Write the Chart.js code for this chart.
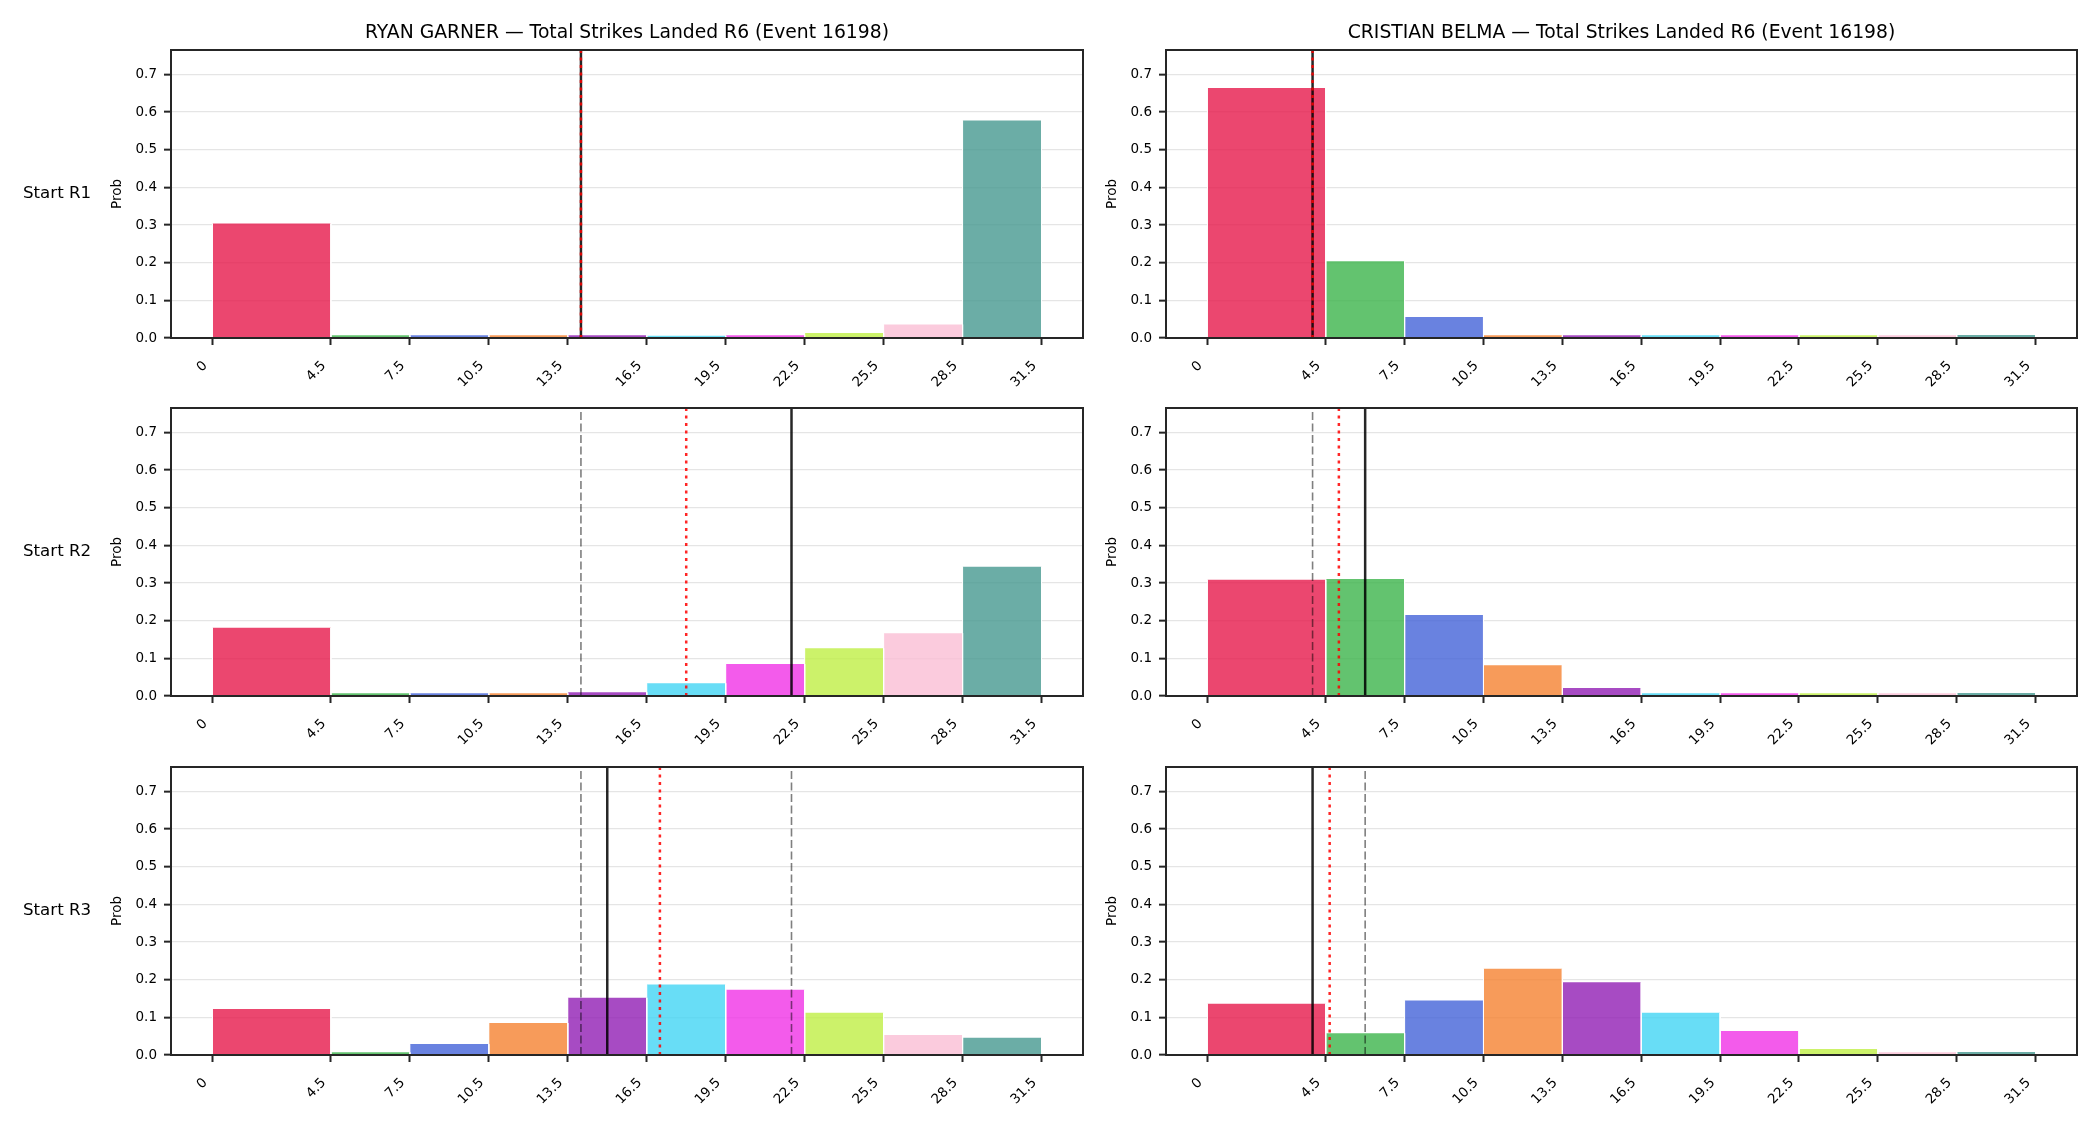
<!DOCTYPE html>
<html>
<head>
<meta charset="utf-8">
<script src="https://cdn.jsdelivr.net/npm/chart.js@4.4.1/dist/chart.umd.min.js"></script>
<style>
  body { margin: 0; background: #fff; }
  #fig { position: relative; width: 2100px; height: 1125px; background: #fff; font-family: 'DejaVu Sans', sans-serif; overflow: hidden; }
  canvas { position: absolute; }
  .title { position: absolute; font-size: 18.75px; line-height: 20px; white-space: nowrap; transform: translateX(-50%); color: #000; }
  .rowlab { position: absolute; left: 23px; font-size: 16.67px; line-height: 20px; color: #000; white-space: nowrap; }
</style>
</head>
<body>
<div id="fig"></div>
<script>
// bins and ticks
const binEdges = [0, 4.5, 7.5, 10.5, 13.5, 16.5, 19.5, 22.5, 25.5, 28.5, 31.5];
const yTicks = [0, 0.1, 0.2, 0.3, 0.4, 0.5, 0.6, 0.7];
const binColors = ['#e6194b', '#3cb44b', '#4363d8', '#f58231', '#911eb4', '#42d4f4', '#f032e6', '#bfef45', '#fabed4', '#469990'];

const fighters = ['RYAN GARNER', 'CRISTIAN BELMA'];
const rowLabels = ['Start R1', 'Start R2', 'Start R3'];

// probabilities per bin
const garnerR1 = [0.304, 0.007, 0.007, 0.007, 0.007, 0.006, 0.007, 0.013, 0.036, 0.578];
const garnerR2 = [0.181, 0.007, 0.007, 0.007, 0.010, 0.034, 0.085, 0.127, 0.167, 0.343];
const garnerR3 = [0.122, 0.007, 0.029, 0.085, 0.152, 0.187, 0.173, 0.112, 0.053, 0.046];
const belmaR1 = [0.664, 0.204, 0.056, 0.007, 0.007, 0.007, 0.007, 0.007, 0.007, 0.008];
const belmaR2 = [0.309, 0.311, 0.215, 0.082, 0.021, 0.007, 0.007, 0.007, 0.007, 0.008];
const belmaR3 = [0.136, 0.058, 0.145, 0.229, 0.193, 0.112, 0.064, 0.016, 0.007, 0.008];

// reference lines (solid black, red dotted, grey dashed)
const garnerSolid = [14, 22, 15];
const garnerDotted = [14, 18, 17];
const garnerDashed = [[], [14], [14, 22]];
const belmaSolid = [4, 6, 4];
const belmaDotted = [4, 5, 4.65];
const belmaDashed = [[], [4], [6]];

const yMax = 0.765;

// layout
const axLeft = [171, 1166];
const axWidth = [912, 911];
const axTop = [50, 408, 767];
const axHeight = 288;
const padL = 100, padT = 20, padR = 12, padB = 70;

Chart.defaults.font.family = "'DejaVu Sans', sans-serif";
Chart.defaults.color = '#000';

function rgba(hex, a) {
    const n = parseInt(hex.slice(1), 16);
    return 'rgba(' + (n >> 16) + ',' + ((n >> 8) & 255) + ',' + (n & 255) + ',' + a + ')';
}

function vline(x, color, width, dash, order) {
    return {
        type: 'line',
        data: [{ x: x, y: 0 }, { x: x, y: yMax }],
        borderColor: color,
        borderWidth: width,
        borderDash: dash,
        pointRadius: 0,
        fill: false,
        order: order
    };
}

function buildDatasets(probs, solid, dotted, dashed) {
    let ds = [];
    probs.forEach((p, i) => {
        ds.push({
            type: 'line',
            data: [
                { x: binEdges[i], y: 0 }, { x: binEdges[i], y: p },
                { x: binEdges[i + 1], y: p }, { x: binEdges[i + 1], y: 0 }
            ],
            backgroundColor: rgba(binColors[i], 0.8),
            borderColor: '#ffffff',
            borderWidth: 1,
            // white edges only on the sides, so thin bars keep their colour
            segment: { borderColor: c => c.p0DataIndex === 1 ? 'rgba(0,0,0,0)' : '#ffffff' },
            fill: 'origin',
            pointRadius: 0,
            tension: 0,
            order: 3
        });
    });
    dashed.forEach(v => ds.push(vline(v, 'rgba(0,0,0,0.5)', 1.6, [8, 3.5], 2)));
    ds.push(vline(solid, 'rgba(0,0,0,0.85)', 2.5, [], 1));
    ds.push(vline(dotted, 'rgba(255,0,0,0.85)', 2.5, [3, 4.5], 0));
    return ds;
}

// matplotlib style box around the axes
const framePlugin = {
    id: 'frame',
    afterDatasetsDraw(chart) {
        const ctx = chart.ctx, a = chart.chartArea;
        ctx.save();
        ctx.strokeStyle = '#262626';
        ctx.lineWidth = 2;
        ctx.strokeRect(a.left, a.top, a.right - a.left, a.bottom - a.top);
        ctx.restore();
    }
};

function drawPanel(col, row, probs, solid, dotted, dashed) {
    const fig = document.getElementById('fig');
    const canvas = document.createElement('canvas');
    canvas.width = axWidth[col] + padL + padR;
    canvas.height = axHeight + padT + padB;
    canvas.style.left = (axLeft[col] - padL) + 'px';
    canvas.style.top = (axTop[row] - padT) + 'px';
    fig.appendChild(canvas);

    new Chart(canvas, {
        type: 'line',
        data: { datasets: buildDatasets(probs, solid, dotted, dashed) },
        options: {
            responsive: false,
            animation: false,
            devicePixelRatio: 1,
            layout: { padding: { left: 0, top: padT, right: padR, bottom: 0 } },
            plugins: { legend: { display: false }, tooltip: { enabled: false } },
            scales: {
                x: {
                    type: 'linear',
                    min: -1.575,
                    max: 33.075,
                    afterBuildTicks: s => { s.ticks = binEdges.map(v => ({ value: v })); },
                    afterFit: s => { s.height = padB; },
                    ticks: {
                        autoSkip: false,
                        minRotation: 45,
                        maxRotation: 45,
                        padding: 13,
                        labelOffset: -7,
                        color: '#000',
                        font: { size: 13.5 },
                        callback: v => String(v)
                    },
                    grid: { display: true, drawOnChartArea: false, drawTicks: true, tickLength: 7, tickColor: '#262626', tickWidth: 2 },
                    border: { display: true, color: '#262626', width: 2 }
                },
                y: {
                    min: 0,
                    max: yMax,
                    afterBuildTicks: s => { s.ticks = yTicks.map(v => ({ value: v })); },
                    afterFit: s => { s.width = padL; },
                    ticks: { padding: 7, color: '#000', font: { size: 13.5 }, callback: v => v.toFixed(1) },
                    grid: { color: '#e5e5e5', lineWidth: 1.3, tickColor: '#262626', tickWidth: 2, tickLength: 7 },
                    border: { display: true, color: '#262626', width: 2 },
                    title: { display: true, text: 'Prob', color: '#000', font: { size: 13.5 }, padding: { top: 38, bottom: 0 } }
                }
            }
        },
        plugins: [framePlugin]
    });

    if (row === 0) {
        const t = document.createElement('div');
        t.className = 'title';
        t.textContent = fighters[col] + ' \u2014 Total Strikes Landed R6 (Event 16198)';
        t.style.left = (axLeft[col] + axWidth[col] / 2) + 'px';
        t.style.top = '22px';
        fig.appendChild(t);
    }
    if (col === 0) {
        const r = document.createElement('div');
        r.className = 'rowlab';
        r.textContent = rowLabels[row];
        r.style.top = (axTop[row] + axHeight / 2 - 11) + 'px';
        fig.appendChild(r);
    }
}

drawPanel(0, 0, garnerR1, garnerSolid[0], garnerDotted[0], garnerDashed[0]);
drawPanel(0, 1, garnerR2, garnerSolid[1], garnerDotted[1], garnerDashed[1]);
drawPanel(0, 2, garnerR3, garnerSolid[2], garnerDotted[2], garnerDashed[2]);
drawPanel(1, 0, belmaR1, belmaSolid[0], belmaDotted[0], belmaDashed[0]);
drawPanel(1, 1, belmaR2, belmaSolid[1], belmaDotted[1], belmaDashed[1]);
drawPanel(1, 2, belmaR3, belmaSolid[2], belmaDotted[2], belmaDashed[2]);
</script>
</body>
</html>
